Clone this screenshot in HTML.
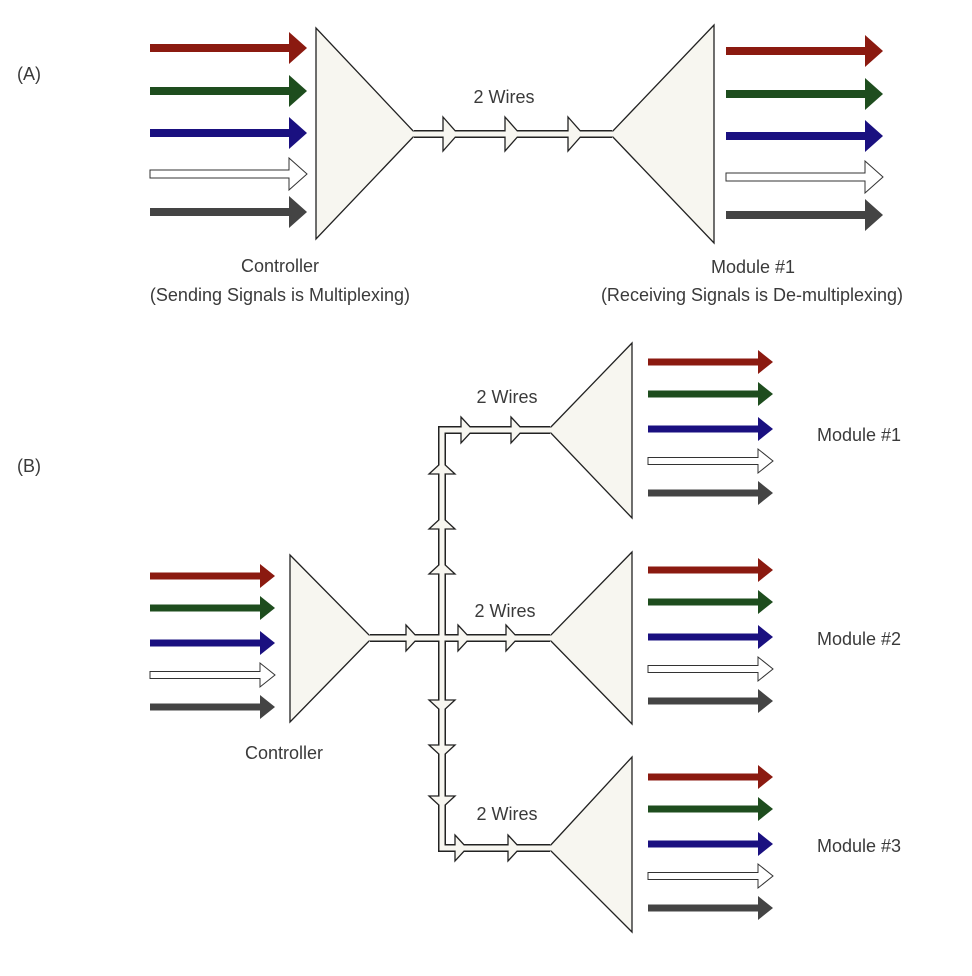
<!DOCTYPE html>
<html><head><meta charset="utf-8"><style>html,body{margin:0;padding:0;background:#fff}svg{display:block}text{font-family:"Liberation Sans",sans-serif;font-size:18px;fill:#3a3a3a}</style></head><body>
<svg width="972" height="976" viewBox="0 0 972 976" xmlns="http://www.w3.org/2000/svg">
<defs>
<path id="aA" d="M0,-4 H139 V-16 L157,0 L139,16 V4 H0 Z"/>
<path id="aB" d="M0,-3.5 H110 V-12 L125,0 L110,12 V3.5 H0 Z"/>
<path id="wA" d="M-15,-17 L0,0 L-15,17 Z" fill="#f7f6f0" stroke="#222" stroke-width="1.3"/>
<path id="wB" d="M-12,-13 L0,0 L-12,13 Z" fill="#f7f6f0" stroke="#222" stroke-width="1.3"/>
<g id="setA">
<use href="#aA" y="0" fill="#8b1a10"/><use href="#aA" y="43" fill="#1e4d1e"/><use href="#aA" y="85" fill="#1a1080"/><use href="#aA" y="126" fill="#fff" stroke="#333" stroke-width="1"/><use href="#aA" y="164" fill="#444"/>
</g>
<g id="setB">
<use href="#aB" y="0" fill="#8b1a10"/><use href="#aB" y="32" fill="#1e4d1e"/><use href="#aB" y="67" fill="#1a1080"/><use href="#aB" y="99" fill="#fff" stroke="#333" stroke-width="1"/><use href="#aB" y="131" fill="#444"/>
</g>
</defs>
<g stroke="#222" stroke-width="1.3" fill="#f7f6f0">
<polygon points="316,28 316,239 416,134"/>
<polygon points="610,134 714,25 714,243"/>
<polygon points="290,555 290,722 372,638"/>
<polygon points="548,430 632,343 632,518"/>
<polygon points="548,638 632,552 632,724"/>
<polygon points="548,848 632,757 632,932"/>
</g>
<use href="#setA" x="150" y="48"/>
<use href="#setA" x="726" y="51"/>
<use href="#setB" x="150" y="576"/>
<use href="#setB" x="648" y="362"/>
<use href="#setB" x="648" y="570"/>
<use href="#setB" x="648" y="777"/>
<g fill="none" stroke="#222" stroke-width="8" stroke-linejoin="miter">
<line x1="414" y1="134" x2="612" y2="134"/>
<line x1="370" y1="638" x2="550" y2="638"/>
<polyline points="550,430 442,430 442,848 550,848"/>
</g>
<use href="#wA" x="458" y="134"/><use href="#wA" x="520" y="134"/><use href="#wA" x="583" y="134"/>
<use href="#wB" x="473" y="430"/><use href="#wB" x="523" y="430"/>
<use href="#wB" x="418" y="638"/><use href="#wB" x="470" y="638"/><use href="#wB" x="518" y="638"/>
<use href="#wB" x="467" y="848"/><use href="#wB" x="520" y="848"/>
<use href="#wB" transform="translate(442,462) rotate(-90)"/>
<use href="#wB" transform="translate(442,517) rotate(-90)"/>
<use href="#wB" transform="translate(442,562) rotate(-90)"/>
<use href="#wB" transform="translate(442,712) rotate(90)"/>
<use href="#wB" transform="translate(442,757) rotate(90)"/>
<use href="#wB" transform="translate(442,808) rotate(90)"/>
<g fill="none" stroke="#f7f6f0" stroke-width="5" stroke-linejoin="miter">
<line x1="412" y1="134" x2="614" y2="134"/>
<line x1="368" y1="638" x2="552" y2="638"/>
<polyline points="552,430 442,430 442,848 552,848"/>
</g>
<text x="17" y="80">(A)</text>
<text x="17" y="472">(B)</text>
<text x="504" y="103" text-anchor="middle">2 Wires</text>
<text x="280" y="272" text-anchor="middle">Controller</text>
<text x="280" y="301" text-anchor="middle">(Sending Signals is Multiplexing)</text>
<text x="753" y="273" text-anchor="middle">Module #1</text>
<text x="752" y="301" text-anchor="middle">(Receiving Signals is De-multiplexing)</text>
<text x="284" y="759" text-anchor="middle">Controller</text>
<text x="507" y="403" text-anchor="middle">2 Wires</text>
<text x="505" y="617" text-anchor="middle">2 Wires</text>
<text x="507" y="820" text-anchor="middle">2 Wires</text>
<text x="817" y="441">Module #1</text>
<text x="817" y="645">Module #2</text>
<text x="817" y="852">Module #3</text>
</svg>
</body></html>
